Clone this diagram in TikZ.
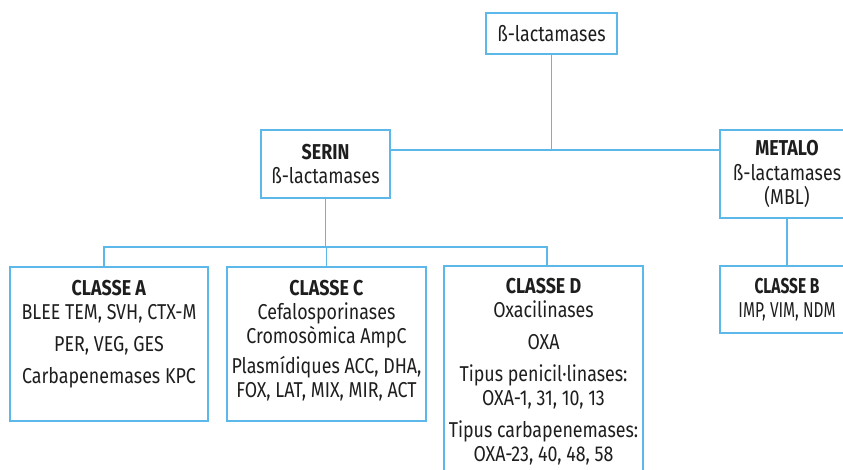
\documentclass[tikz,border=0pt]{standalone}
\usepackage{fontspec}
\setmainfont{Fira Sans}[FakeStretch=0.83]
\definecolor{lineblue}{RGB}{92,184,232}
\definecolor{txtc}{RGB}{30,30,30}
\begin{document}
\begin{tikzpicture}[x=1pt,y=-1pt,
  box/.style={draw=lineblue,line width=1.3pt,fill=white,rectangle,inner sep=0pt,text=txtc,align=center,
    font=\fontsize{21.5}{24.5}\selectfont},
  txt/.style={inner sep=0pt,text=txtc,align=center,anchor=north,font=\fontsize{21.5}{24}\selectfont},
  conn/.style={draw=lineblue,line width=1.3pt}]
\clip (0,0) rectangle (843,469);
\fill[white] (0,0) rectangle (843,469);
% boxes
\node[box,minimum width=131,minimum height=41] (top) at (551.5,33.5) {ß-lactamases};
\node[box,minimum width=129,minimum height=68] (serin) at (325.5,164) {\textbf{SERIN}\\ß-lactamases};
\node[box,minimum width=134,minimum height=88] (metalo) at (787,174) {\textbf{METALO}\\ß-lactamases\\(MBL)};
\node[box,minimum width=198,minimum height=154] (A) at (109,344) {};
\node[box,minimum width=199,minimum height=154] (C) at (326.5,344) {};
\node[box,minimum width=199,minimum height=220] (D) at (543.5,376) {};
\node[box,minimum width=134,minimum height=67,font=\fontsize{21.5}{24.5}\selectfont\addfontfeature{FakeStretch=0.72}] (B) at (787,299.5) {\textbf{CLASSE B}\\IMP, VIM, NDM};
% texts
\node[txt] (tA) at ([yshift=-14]A.north) {\textbf{CLASSE A}\\BLEE TEM, SVH, CTX-M\\[8pt]PER, VEG, GES\\[8pt]Carbapenemases KPC};
\node[txt] (tC) at ([yshift=-14]C.north) {\textbf{CLASSE C}\\Cefalosporinases\\Cromosòmica AmpC\\[6pt]Plasmídiques ACC, DHA,\\FOX, LAT, MIX, MIR, ACT};
\node[txt] (tD) at ([yshift=-12.5]D.north) {\textbf{CLASSE D}\\Oxacilinases\\[8pt]OXA\\[8pt]Tipus penicil·linases:\\OXA-1, 31, 10, 13\\[8pt]Tipus carbapenemases:\\OXA-23, 40, 48, 58};
% connectors
\coordinate (j) at (550,150);
\coordinate (bus) at (0,247);
\coordinate (aT) at ([xshift=-5]A.north);
\coordinate (dT) at ([xshift=3.5]D.north);
\draw[conn] (top.south) -- (top.south |- j);
\draw[conn] (serin.east |- j) -- (metalo.west |- j);
\draw[conn] (serin.south) -- (serin.south |- bus);
\draw[conn] (aT) -- (aT |- bus) -- (dT |- bus) -- (dT);
\draw[conn] (C.north) -- (C.north |- bus);
\draw[conn] (metalo.south) -- (B.north);
\end{tikzpicture}
\end{document}
